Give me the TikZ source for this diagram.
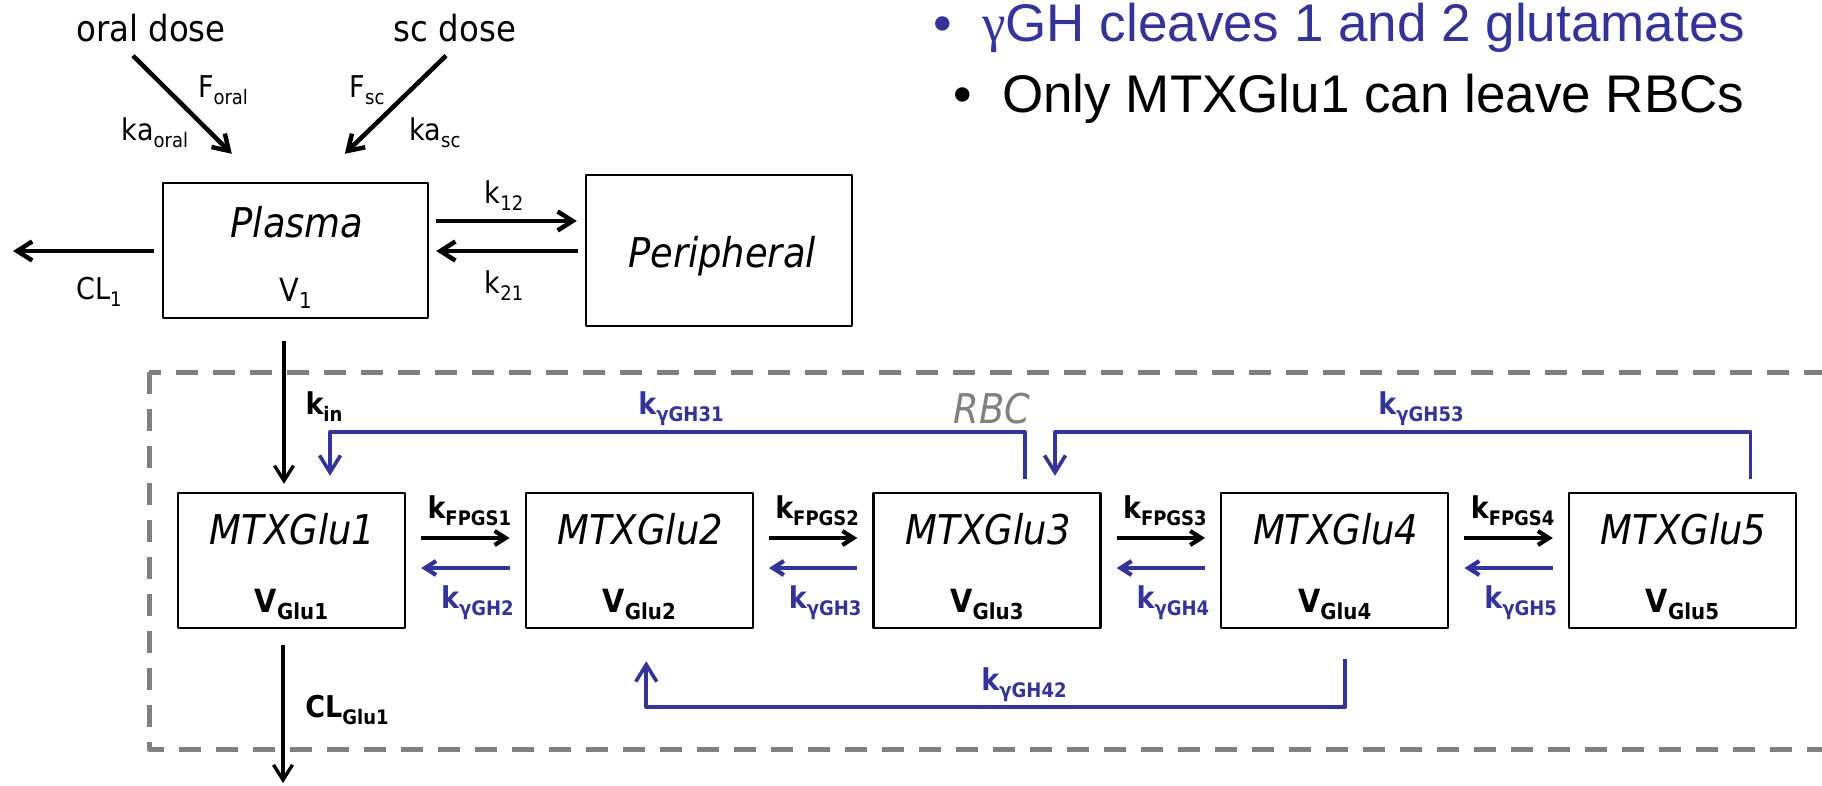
\documentclass[tikz,border=0pt]{standalone}
\usepackage{fontspec}
\setmainfont{DejaVu Sans Condensed}[BoldFont={DejaVu Sans Condensed Bold},ItalicFont={DejaVu Sans Condensed Oblique},BoldItalicFont={DejaVu Sans Condensed Bold Oblique}]
\newfontfamily\arialfont{Liberation Sans}
\newfontfamily\greekfont{Liberation Serif}
\usetikzlibrary{arrows.meta,calc}
\definecolor{ghblue}{RGB}{51,51,153}
\definecolor{rbcgray}{RGB}{128,128,128}
\newcommand{\fs}[1]{\fontsize{#1}{#1}\selectfont}
\newcommand{\lo}[1]{\raisebox{-7pt}{\fs{20}#1}}
\newcommand{\vsub}[1]{\raisebox{-7pt}{\fs{22}#1}}
\begin{document}
\begin{tikzpicture}[x=1pt,y=-1pt,line join=round,
    comp/.style={draw,line width=2.4pt,minimum width=227pt,minimum height=135pt,inner sep=0pt},
    txt/.style={inner sep=0pt,anchor=base},
    lbl/.style={txt,font=\fs{30}},
    blbl/.style={txt,font=\fs{30}\bfseries},
    ghlbl/.style={blbl,text=ghblue},
    cname/.style={txt,font=\fs{41}\itshape},
    vlbl/.style={txt,font=\fs{32}\bfseries},
    bullet/.style={txt,font=\arialfont\fs{53}},
    arr/.style={-{Straight Barb[length=15pt,width=19pt]},line width=4.5pt},
    sarr/.style={-{Straight Barb[length=11pt,width=14pt]},line width=4.2pt},
    tarr/.style={-{Straight Barb[length=15pt,width=19pt]},line width=3.4pt},
    barr/.style={sarr,draw=ghblue},
    garr/.style={-{Straight Barb[length=17pt,width=21pt]},line width=3.6pt,draw=ghblue},
    rbcline/.style={draw=rbcgray,line width=5pt,dash pattern=on 22pt off 15pt}]
\useasboundingbox (0,0) rectangle (1822,785);
\draw[rbcline] (149,372) rectangle (1850,749);
\node[txt,font=\fs{41}\itshape,text=rbcgray] (rbc) at (992,423) {RBC};
% central compartments
\node[comp,minimum width=265pt] (plasma) at (295.5,250.5) {};
\node[cname] (plasmaname) at ($(plasma.center)+(1.5,-13.5)$) {Plasma};
\node[txt,font=\fs{32}] (plasmav) at ($(plasma.center)+(0,50.5)$) {V\vsub{1}};
\node[comp,minimum width=266pt,minimum height=151pt] (periph) at (719,250.5) {};
\node[cname] (periphname) at ($(periph.center)+(3,16.5)$) {Peripheral};
% doses
\node[txt,font=\fs{36}] (oral) at (151,41) {oral dose};
\node[txt,font=\fs{36}] (sc) at (455,41) {sc dose};
\node[lbl] (foral) at (223,97) {F\lo{oral}};
\node[lbl] (kaoral) at (155,140) {ka\lo{oral}};
\node[lbl] (fsc) at (367,97) {F\lo{sc}};
\node[lbl] (kasc) at (435,140) {ka\lo{sc}};
\draw[arr] ($(oral.south)+(-18,14)$) -- ($(plasma.north west)+(70,-28)$);
\draw[arr] ($(sc.south)+(-9,14)$) -- ($(plasma.north west)+(183,-28)$);
\coordinate (out1) at (13,251);
\draw[arr] ($(plasma.west)+(-8,0.5)$) -- (out1);
\node[lbl] (cl1) at (99,299) {CL\lo{1}};
\draw[arr] ($(plasma.east)+(7,-29.5)$) -- ($(periph.west)+(-8,-29.5)$);
\draw[arr] ($(periph.west)+(-7,0.5)$) -- ($(plasma.east)+(7,0.5)$);
\node[lbl] (k12) at (504,203) {k\lo{12}};
\node[lbl] (k21) at (504,293) {k\lo{21}};
% polyglutamates
\foreach \i in {1,...,5}{
  \node[comp] (glu\i) at ({291.5+347.75*(\i-1)},560.5) {};
  \node[cname] (name\i) at ($(glu\i.center)+(1,-16.5)$) {MTXGlu\i};
  \node[vlbl] (vol\i) at ($(glu\i.center)+(0,51.5)$) {V\vsub{Glu\i}};
}
\foreach \i/\j in {1/2,2/3,3/4,4/5}{
  \draw[sarr] ($(glu\i.east)+(15,-22.5)$) -- ($(glu\j.west)+(-15,-22.5)$);
  \draw[barr] ($(glu\j.west)+(-15,7.5)$) -- ($(glu\i.east)+(15,7.5)$);
  \node[blbl] (fpgs\i) at ($(glu\i.east)!0.5!(glu\j.west)+(4,-42.5)$) {k\lo{FPGS\i}};
  \node[ghlbl] (gh\j) at ($(glu\i.east)!0.5!(glu\j.west)+(12,47.5)$) {k\lo{γGH\j}};
}
\draw[tarr] ($(plasma.south)+(-11.5,22)$) -- ($(glu1.north)+(-7.5,-8)$);
\node[blbl] (kin) at (324,414) {k\lo{in}};
\coordinate (out2) at (283,783);
\draw[tarr] ($(glu1.south)+(-8.5,16)$) -- (out2);
\node[blbl] (clglu) at (347,717) {CL\lo{Glu1}};
\draw[garr] ($(glu3.north)+(38,-13)$) -- ++(0,-47) -| ($(glu1.north)+(38.5,-16)$);
\node[ghlbl] (gh31) at (681,414) {k\lo{γGH31}};
\draw[garr] ($(glu5.north)+(68,-13)$) -- ++(0,-47) -| ($(glu3.north)+(68,-16)$);
\node[ghlbl] (gh53) at (1421,414) {k\lo{γGH53}};
\draw[garr] ($(glu4.south)+(10,30)$) -- ++(0,48) -| ($(glu2.south)+(7,32)$);
\node[ghlbl] (gh42) at (1024,690) {k\lo{γGH42}};
% notes
\node[bullet,text=ghblue] (dot1) at (943,41) {•};
\node[bullet,anchor=base west,text=ghblue] (line1) at (982,41) {{\greekfont γ}GH cleaves 1 and 2 glutamates};
\node[bullet] (dot2) at (963,112) {•};
\node[bullet,anchor=base west] (line2) at (1002,112) {Only MTXGlu1 can leave RBCs};
\end{tikzpicture}
\end{document}
